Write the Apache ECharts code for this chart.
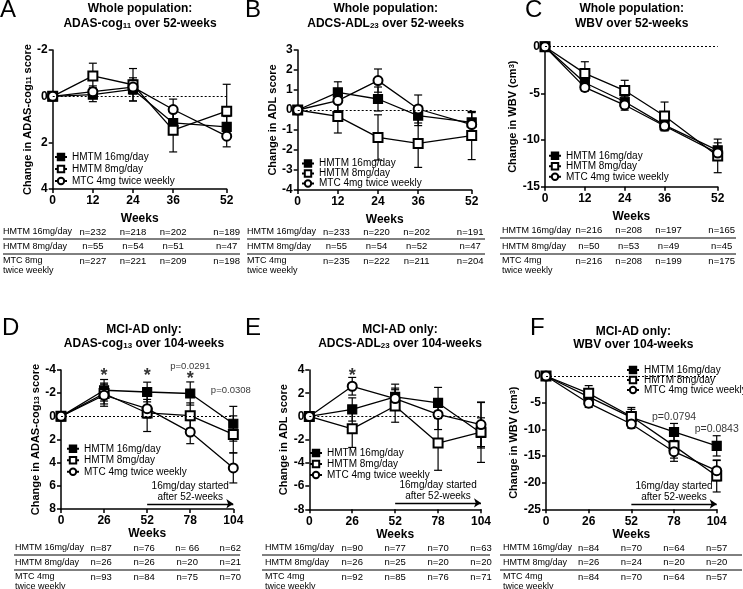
<!DOCTYPE html>
<html>
<head>
<meta charset="utf-8">
<script src="https://cdn.jsdelivr.net/npm/echarts@6/dist/echarts.min.js"></script>
<style>
  html, body { margin: 0; padding: 0; background: #fff; }
  #chart { width: 743px; height: 589px; }
</style>
</head>
<body>
<div id="chart"></div>
<script>
const FONT = 'Liberation Sans, Arial, Helvetica, sans-serif';

// x positions (weeks)
const weeks52 = [0, 12, 24, 36, 52];
const weeks104 = [0, 26, 52, 78, 104];

// A: whole population, ADAS-cog11 change (axis inverted)
const adasW16 = [0, -0.07, -0.3, 1.15, 1.32];
const adasW16Err = [0, 0.3, 0.5, 0.5, 0.45];
const adasW8 = [0, -0.88, -0.5, 1.46, 0.64];
const adasW8Err = [0, 0.55, 0.7, 0.94, 1.16];
const adasWMtc = [0, -0.2, -0.4, 0.57, 1.72];
const adasWMtcErr = [0, 0.25, 0.3, 0.45, 0.46];

// B: whole population, ADCS-ADL23 change
const adlW16 = [0, 0.88, 0.55, -0.28, -0.62];
const adlW16Err = [0, 0.53, 0.6, 0.5, 0.55];
const adlW8 = [0, -0.32, -1.37, -1.67, -1.28];
const adlW8Err = [0, 0.83, 1.13, 1.2, 1.2];
const adlWMtc = [0, 0.47, 1.47, 0.05, -0.73];
const adlWMtcErr = [0, 0.5, 0.58, 0.7, 0.6];

// C: whole population, WBV change (cm3)
const wbvW16 = [0, -3.86, -5.9, -8.4, -11.1];
const wbvW16Err = [0, 0.55, 0.6, 0.6, 0.8];
const wbvW8 = [0, -2.86, -4.7, -7.43, -11.7];
const wbvW8Err = [0, 1.25, 1.1, 1.5, 1.8];
const wbvWMtc = [0, -4.36, -6.25, -8.5, -11.4];
const wbvWMtcErr = [0, 0.4, 0.55, 0.5, 0.6];

// D: MCI-AD, ADAS-cog13 change (axis inverted)
const adasM16 = [0, -2.25, -2.1, -1.97, 0.64];
const adasM16Err = [0, 0.93, 0.85, 1.0, 1.5];
const adasM8 = [0, -1.97, -0.29, -0.06, 1.56];
const adasM8Err = [0, 0.9, 1.6, 1.1, 1.6];
const adasMMtc = [0, -1.82, -0.66, 1.36, 4.45];
const adasMMtcErr = [0, 0.95, 0.8, 1.0, 1.3];

// E: MCI-AD, ADCS-ADL23 change
const adlM16 = [0, 0.6, 1.68, 1.16, -1.42];
const adlM16Err = [0, 1.0, 1.1, 1.34, 1.3];
const adlM8 = [0, -1.07, 0.9, -2.29, -1.36];
const adlM8Err = [0, 1.6, 1.4, 2.35, 2.6];
const adlMMtc = [0, 2.6, 1.54, 0.17, -0.7];
const adlMMtcErr = [0, 0.76, 0.9, 1.3, 1.9];

// F: MCI-AD, WBV change (cm3)
const wbvM16 = [0, -3.9, -7.75, -10.5, -13.1];
const wbvM16Err = [0, 1.2, 1.5, 1.6, 1.9];
const wbvM8 = [0, -3.25, -7.6, -13.1, -18.75];
const wbvM8Err = [0, 1.45, 1.7, 2.3, 3.0];
const wbvMMtc = [0, -5.1, -9.0, -14.2, -17.75];
const wbvMMtcErr = [0, 0.8, 0.8, 1.8, 1.9];

// annotations [week, value, text]
const notesD = [[26, -3.5, '*'], [52, -3.5, '*'], [78, -3.2, '*'], [78, -4.35, 'p=0.0291'], [102.5, -2.25, 'p=0.0308']];
const notesE = [[26, 3.47, '*']];
const notesF = [[78, -7.63, 'p=0.0794'], [104, -9.94, 'p=0.0843']];

// patient numbers under each panel
const rowsA = ['HMTM 16mg/day', 'HMTM 8mg/day', 'MTC 8mg\ntwice weekly'];
const rows4mg = ['HMTM 16mg/day', 'HMTM 8mg/day', 'MTC 4mg\ntwice weekly'];
const nA = [['n=232', 'n=218', 'n=202', 'n=189'], ['n=55', 'n=54', 'n=51', 'n=47'], ['n=227', 'n=221', 'n=209', 'n=198']];
const nB = [['n=233', 'n=220', 'n=202', 'n=191'], ['n=55', 'n=54', 'n=52', 'n=47'], ['n=235', 'n=222', 'n=211', 'n=204']];
const nC = [['n=216', 'n=208', 'n=197', 'n=165'], ['n=50', 'n=53', 'n=49', 'n=45'], ['n=216', 'n=208', 'n=199', 'n=175']];
const nD = [['n=87', 'n=76', 'n= 66', 'n=62'], ['n=26', 'n=26', 'n=20', 'n=21'], ['n=93', 'n=84', 'n=75', 'n=70']];
const nE = [['n=90', 'n=77', 'n=70', 'n=63'], ['n=26', 'n=25', 'n=20', 'n=20'], ['n=92', 'n=85', 'n=76', 'n=71']];
const nF = [['n=84', 'n=70', 'n=64', 'n=57'], ['n=26', 'n=24', 'n=20', 'n=20'], ['n=84', 'n=70', 'n=64', 'n=57']];

const seriesNames = ['HMTM 16mg/day', 'HMTM 8mg/day', 'MTC 4mg twice weekly'];
const symbols = ['rect', 'emptyRect', 'emptyCircle'];

const panels = [
  { letter: 'A', lx: 0, ly: -2, tx: 140, ty: [9, 23.5], t1: 'Whole population:', t2: 'ADAS-cog{s|11} over 52-weeks',
    grid: { left: 52.7, top: 50, width: 174, height: 139 }, weeks: weeks52, xMax: 52, xGap: 24,
    yMin: -2, yMax: 4, yInt: 2, inverse: true, yName: 'Change in ADAS-cog{s|11} score', yGap: 19,
    data: [[adasW16, adasW16Err], [adasW8, adasW8Err], [adasWMtc, adasWMtcErr]],
    legend: { left: 54, top: 151, lh: 12 },
    table: { rowY: [232, 246.5, 261], lineY: [239, 254], labelX: 3, lineX: [3, 240], dx: 0, rows: rowsA, n: nA } },
  { letter: 'B', lx: 245, ly: -2, tx: 385.7, ty: [9, 23.5], t1: 'Whole population:', t2: 'ADCS-ADL{s|23} over 52-weeks',
    grid: { left: 297.7, top: 50, width: 174, height: 140 }, weeks: weeks52, xMax: 52, xGap: 23.5,
    yMin: -4, yMax: 3, yInt: 1, inverse: false, yName: 'Change in ADL score', yGap: 19,
    data: [[adlW16, adlW16Err], [adlW8, adlW8Err], [adlWMtc, adlWMtcErr]],
    legend: { left: 301, top: 158.5, lh: 9.7 },
    table: { rowY: [232, 246.5, 261], lineY: [239, 254], labelX: 247, lineX: [247, 485], dx: -1.5, rows: rows4mg, n: nB } },
  { letter: 'C', lx: 525, ly: -2, tx: 631.7, ty: [9, 23.5], t1: 'Whole population:', t2: 'WBV over 52-weeks',
    grid: { left: 545, top: 46.7, width: 172.7, height: 140 }, weeks: weeks52, xMax: 52, xGap: 24,
    yMin: -15, yMax: 0, yInt: 5, inverse: false, yName: 'Change in WBV (cm{p|3})', yGap: 22,
    data: [[wbvW16, wbvW16Err], [wbvW8, wbvW8Err], [wbvWMtc, wbvWMtcErr]],
    legend: { left: 548, top: 150.5, lh: 10.5 },
    table: { rowY: [230.7, 246.5, 261], lineY: [238, 254], labelX: 502, lineX: [500, 736], dx: 4, rows: rows4mg, n: nC } },
  { letter: 'D', lx: 2, ly: 316.5, tx: 144, ty: [330, 343.5], t1: 'MCI-AD only:', t2: 'ADAS-cog{s|13} over 104-weeks',
    grid: { left: 61, top: 370, width: 172.3, height: 139 }, weeks: weeks104, xMax: 104, xGap: 18,
    yMin: -4, yMax: 8, yInt: 2, inverse: true, yName: 'Change in ADAS-cog{s|13} score', yGap: 18,
    data: [[adasM16, adasM16Err], [adasM8, adasM8Err], [adasMMtc, adasMMtcErr]],
    legend: { left: 66, top: 443, lh: 11.5 }, arrowY: 7.55, notes: notesD, noteSize: 9.5,
    table: { rowY: [548, 562.5, 577], lineY: [555, 570], labelX: 15, lineX: [14, 240], dx: -3, rows: rows4mg, n: nD } },
  { letter: 'E', lx: 245, ly: 316, tx: 400, ty: [330, 343.5], t1: 'MCI-AD only:', t2: 'ADCS-ADL{s|23} over 104-weeks',
    grid: { left: 309.3, top: 370, width: 171.7, height: 139.3 }, weeks: weeks104, xMax: 104, xGap: 16.5,
    yMin: -8, yMax: 4, yInt: 2, inverse: false, yName: 'Change in ADL score', yGap: 17,
    data: [[adlM16, adlM16Err], [adlM8, adlM8Err], [adlMMtc, adlMMtcErr]],
    legend: { left: 309, top: 447.5, lh: 11 }, arrowY: -7.45, notes: notesE, noteSize: 10,
    table: { rowY: [548, 562.5, 577], lineY: [555, 570], labelX: 265, lineX: [262, 490], dx: 0, rows: rows4mg, n: nE } },
  { letter: 'F', lx: 530, ly: 316, tx: 633.3, ty: [331.7, 345], t1: 'MCI-AD only:', t2: 'WBV over 104-weeks',
    grid: { left: 546, top: 376, width: 170.7, height: 133.3 }, weeks: weeks104, xMax: 104, xGap: 18,
    yMin: -25, yMax: 0, yInt: 5, inverse: false, yName: 'Change in WBV (cm{p|3})', yGap: 23,
    data: [[wbvM16, wbvM16Err], [wbvM8, wbvM8Err], [wbvMMtc, wbvMMtcErr]],
    legend: { left: 626, top: 365, lh: 10 }, arrowY: -24, notes: notesF, noteSize: 10.5,
    table: { rowY: [548, 562.5, 577], lineY: [555, 570], labelX: 503, lineX: [500, 742], dx: 0, rows: rows4mg, n: nF } }
];

let chart = echarts.init(document.getElementById('chart'));

let errBar = (params, api) => {
  let e = api.value(2);
  if (!e) return;
  let x = api.value(0), y = api.value(1);
  let hi = api.coord([x, y + e]);
  let lo = api.coord([x, y - e]);
  let w = 4;
  let style = { stroke: '#000', lineWidth: 1.2 };
  return {
    type: 'group',
    children: [
      { type: 'line', shape: { x1: hi[0], y1: hi[1], x2: lo[0], y2: lo[1] }, style: style },
      { type: 'line', shape: { x1: hi[0] - w, y1: hi[1], x2: hi[0] + w, y2: hi[1] }, style: style },
      { type: 'line', shape: { x1: lo[0] - w, y1: lo[1], x2: lo[0] + w, y2: lo[1] }, style: style }
    ]
  };
};

let grids = [], xAxes = [], yAxes = [], series = [], legends = [];
const axisFont = { color: '#000', fontFamily: FONT, fontWeight: 'bold', fontSize: 12 };

panels.forEach((p, i) => {
  grids.push(Object.assign({}, p.grid));
  let ticks = p.xMax === 52 ? weeks52 : weeks104;
  xAxes.push({
    type: 'value', gridIndex: i, min: 0, max: p.xMax,
    axisLine: { onZero: false, lineStyle: { color: '#000', width: 1.5 } },
    axisTick: { customValues: ticks, length: 4, lineStyle: { color: '#000', width: 1.5 } },
    axisLabel: Object.assign({ customValues: ticks, margin: 6 }, axisFont),
    splitLine: { show: false },
    name: 'Weeks', nameLocation: 'middle', nameGap: p.xGap,
    nameTextStyle: { color: '#000', fontFamily: FONT, fontWeight: 'bold', fontSize: 12 }
  });
  yAxes.push({
    type: 'value', gridIndex: i, min: p.yMin, max: p.yMax, interval: p.yInt, inverse: p.inverse,
    axisLine: { show: true, onZero: false, lineStyle: { color: '#000', width: 1.5 } },
    axisTick: { show: true, length: 4, lineStyle: { color: '#000', width: 1.5 } },
    axisLabel: Object.assign({ margin: 5 }, axisFont),
    splitLine: { show: false },
    name: p.yName, nameLocation: 'middle', nameGap: p.yGap, nameRotate: 90,
    nameTextStyle: {
      color: '#000', fontFamily: FONT, fontWeight: 'bold', fontSize: 11,
      rich: {
        s: { color: '#000', fontFamily: FONT, fontWeight: 'bold', fontSize: 7.5, verticalAlign: 'bottom' },
        p: { color: '#000', fontFamily: FONT, fontWeight: 'bold', fontSize: 7.5, verticalAlign: 'top' }
      }
    }
  });

  p.data.forEach((d, k) => {
    series.push({
      type: 'custom', xAxisIndex: i, yAxisIndex: i, renderItem: errBar, silent: true, clip: false, z: 1,
      encode: { x: 0, y: 1 },
      data: p.weeks.map((w, j) => [w, d[0][j], d[1][j]])
    });
    let s = {
      type: 'line', name: seriesNames[k], xAxisIndex: i, yAxisIndex: i, z: 2,
      data: p.weeks.map((w, j) => [w, d[0][j]]),
      symbol: symbols[k], symbolSize: 9,
      lineStyle: { color: '#000', width: 1.3 },
      itemStyle: { color: '#000', borderColor: '#000', borderWidth: 1.2 },
      emphasis: { disabled: true }
    };
    if (k === 0) {
      s.markLine = {
        silent: true, symbol: 'none', label: { show: false },
        lineStyle: { color: '#000', width: 1, type: [2, 2] },
        data: [{ yAxis: 0 }]
      };
    }
    if (k === 1 && p.arrowY !== undefined) {
      s.markLine = {
        silent: true, symbol: ['none', 'arrow'], symbolSize: 7,
        lineStyle: { color: '#000', width: 1.3, type: 'solid' },
        label: {
          show: true, position: 'insideMiddleTop', distance: 1,
          formatter: '16mg/day started\nafter 52-weeks',
          color: '#000', fontFamily: FONT, fontSize: 10, lineHeight: 11
        },
        data: [[{ coord: [52, p.arrowY] }, { coord: [104, p.arrowY] }]]
      };
    }
    series.push(s);
  });

  if (p.notes) {
    series.push({
      type: 'scatter', xAxisIndex: i, yAxisIndex: i, silent: true, clip: false, z: 5,
      symbolSize: 0,
      data: p.notes.map((n) => ({
        value: [n[0], n[1]],
        label: {
          show: true, position: 'inside', formatter: n[2], color: '#000', fontFamily: FONT,
          fontSize: n[2] === '*' ? 18 : p.noteSize, fontWeight: n[2] === '*' ? 'bold' : 'normal'
        }
      }))
    });
  }

  legends.push({
    orient: 'vertical', left: p.legend.left, top: p.legend.top, padding: 0,
    itemWidth: 12, itemHeight: 8, itemGap: 0, selectedMode: false,
    data: seriesNames,
    textStyle: { color: '#000', fontFamily: FONT, fontSize: 10, lineHeight: p.legend.lh }
  });
});

chart.setOption({
  animation: false,
  backgroundColor: '#fff',
  grid: grids,
  xAxis: xAxes,
  yAxis: yAxes,
  legend: legends,
  series: series
});

// titles, panel letters and the n tables
let txt = (x, y, text, st) => ({
  type: 'text', x: x, y: y, silent: true,
  style: Object.assign({
    text: text, fill: '#000', fontFamily: FONT, fontSize: 12,
    align: 'left', verticalAlign: 'middle', textAlign: 'left', textVerticalAlign: 'middle'
  }, st || {})
});
let hline = (x1, x2, y) => ({
  type: 'line', silent: true,
  shape: { x1: x1, y1: y, x2: x2, y2: y },
  style: { stroke: '#000', lineWidth: 1 }
});

let graphics = [];
panels.forEach((p, i) => {
  graphics.push(txt(p.lx, p.ly, p.letter, { fontSize: 24, verticalAlign: 'top', textVerticalAlign: 'top' }));
  graphics.push(txt(p.tx, p.ty[0], p.t1, { fontSize: 12, fontWeight: 'bold', align: 'center', textAlign: 'center' }));
  graphics.push(txt(p.tx, p.ty[1], p.t2, {
    fontSize: 12, fontWeight: 'bold', align: 'center', textAlign: 'center',
    rich: { s: { fontFamily: FONT, fontSize: 8, fontWeight: 'bold', verticalAlign: 'bottom', fill: '#000' } }
  }));

  let t = p.table;
  t.rows.forEach((r, k) => {
    if (r.indexOf('\n') >= 0) {
      graphics.push(txt(t.labelX, t.rowY[k] - 5, r, { fontSize: 9, lineHeight: 10, verticalAlign: 'top', textVerticalAlign: 'top' }));
    } else {
      graphics.push(txt(t.labelX, t.rowY[k], r, { fontSize: 9 }));
    }
    t.n[k].forEach((v, j) => {
      let px = chart.convertToPixel({ xAxisIndex: i }, p.weeks[j + 1]) + t.dx;
      graphics.push(txt(px, t.rowY[k], v, { fontSize: 9.5, align: 'center', textAlign: 'center' }));
    });
  });
  t.lineY.forEach((y) => graphics.push(hline(t.lineX[0], t.lineX[1], y)));
});

chart.setOption({ graphic: graphics });
</script>
</body>
</html>
